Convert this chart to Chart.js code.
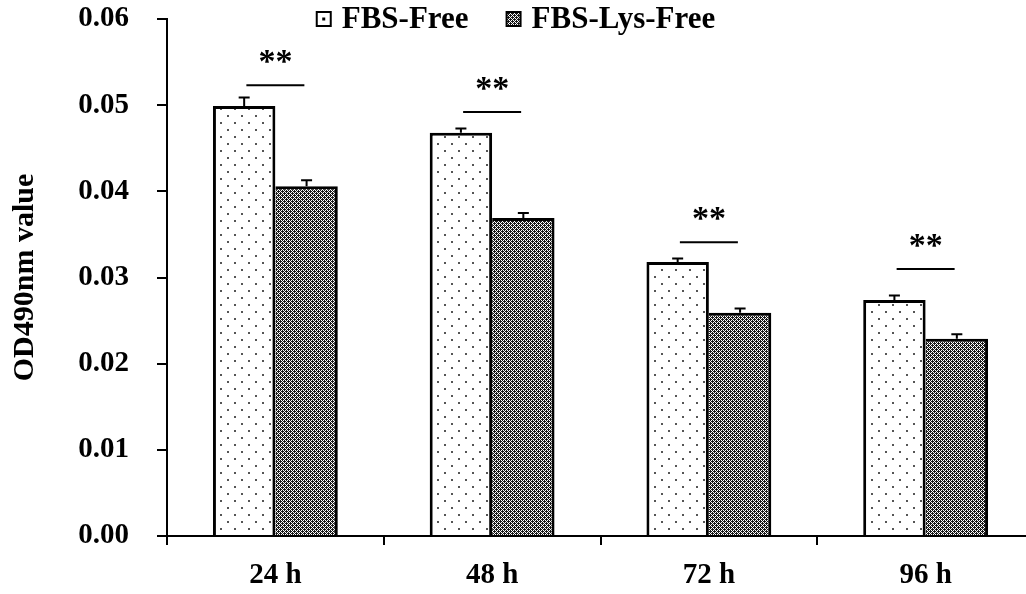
<!DOCTYPE html>
<html>
<head>
<meta charset="utf-8">
<script src="https://cdn.jsdelivr.net/npm/chart.js@4.4.0/dist/chart.umd.min.js"></script>
<style>
  html, body { margin: 0; padding: 0; background: #fff; overflow: hidden; }
  #wrap { width: 1026px; height: 594px; overflow: hidden; }
  #wrap canvas { display: block; }
</style>
</head>
<body>
<div id="wrap"><canvas id="chart" width="1040" height="594"></canvas></div>
<script>
// values
const categories = ['24 h', '48 h', '72 h', '96 h'];
const fbsFree = [0.0499, 0.0468, 0.0318, 0.0274];
const fbsFreeErr = [0.0010, 0.0005, 0.0004, 0.0005];
const fbsLysFree = [0.0406, 0.0369, 0.0259, 0.0229];
const fbsLysFreeErr = [0.0007, 0.0006, 0.0005, 0.0005];
const sigLevels = [0.0523, 0.0492, 0.0341, 0.0310];
const sigMarks = ['**', '**', '**', '**'];
const yTickValues = [0, 0.01, 0.02, 0.03, 0.04, 0.05, 0.06];

const FONT = '"Liberation Serif", "Times New Roman", serif';
const canvas = document.getElementById('chart');
const ctx = canvas.getContext('2d');

function dotPattern() {
  const c = document.createElement('canvas');
  c.width = 14; c.height = 14;
  const g = c.getContext('2d');
  g.fillStyle = '#fff';
  g.fillRect(0, 0, 14, 14);
  g.fillStyle = '#555';
  g.fillRect(3, 3, 2, 2);
  g.fillRect(10, 10, 2, 2);
  return ctx.createPattern(c, 'repeat');
}

function densePattern() {
  const c = document.createElement('canvas');
  c.width = 4; c.height = 4;
  const g = c.getContext('2d');
  g.fillStyle = '#fff';
  g.fillRect(0, 0, 4, 4);
  g.fillStyle = '#1a1a1a';
  [[0, 0], [2, 0], [1, 1], [3, 1], [0, 2], [2, 2], [1, 3], [3, 3], [0, 1], [2, 3]].forEach(([x, y]) => g.fillRect(x, y, 1, 1));
  return ctx.createPattern(c, 'repeat');
}

const freeFill = dotPattern();
const lysFill = densePattern();

const errorBars = {
  id: 'errorBars',
  afterDatasetsDraw(chart) {
    const y = chart.scales.y;
    const errs = [fbsFreeErr, fbsLysFreeErr];
    const g = chart.ctx;
    g.save();
    g.strokeStyle = '#000';
    g.lineWidth = 2;
    chart.data.datasets.forEach((ds, i) => {
      chart.getDatasetMeta(i).data.forEach((bar, j) => {
        const top = y.getPixelForValue(ds.data[j] + errs[i][j]);
        g.beginPath();
        g.moveTo(bar.x, bar.y);
        g.lineTo(bar.x, top);
        g.moveTo(bar.x - 5.5, top);
        g.lineTo(bar.x + 5.5, top);
        g.stroke();
      });
    });

    // significance marks
    const x = chart.scales.x;
    categories.forEach((c, j) => {
      const cx = x.getPixelForValue(j);
      const ly = y.getPixelForValue(sigLevels[j]);
      g.beginPath();
      g.moveTo(cx - 29, ly);
      g.lineTo(cx + 29, ly);
      g.stroke();
      g.fillStyle = '#000';
      g.font = 'bold 34px ' + FONT;
      g.textAlign = 'center';
      g.textBaseline = 'alphabetic';
      g.fillText(sigMarks[j], cx, ly - 13);
    });
    g.restore();
  }
};

const topLegend = {
  id: 'topLegend',
  afterDraw(chart) {
    const g = chart.ctx;
    g.save();
    g.font = 'bold 31px ' + FONT;
    const labels = chart.data.datasets.map(d => d.label);
    const w = labels.map(t => g.measureText(t).width);
    const box = 14, gap = 11, spacing = 38;
    const total = box + gap + w[0] + spacing + box + gap + w[1];
    let x = 516 - total / 2;
    const boxTop = 12, baseline = 28;
    labels.forEach((t, i) => {
      g.fillStyle = i === 0 ? '#fff' : lysFill;
      g.fillRect(x, boxTop, box, box);
      if (i === 0) {
        g.fillStyle = '#000';
        g.fillRect(x + box / 2 - 1.5, boxTop + box / 2 - 1.5, 3, 3);
      }
      g.strokeStyle = '#000';
      g.lineWidth = 2;
      g.strokeRect(x, boxTop, box, box);
      g.fillStyle = '#000';
      g.textAlign = 'left';
      g.textBaseline = 'alphabetic';
      g.fillText(t, x + box + gap, baseline);
      x += box + gap + w[i] + spacing;
    });
    g.restore();
  }
};

new Chart(ctx, {
  type: 'bar',
  data: {
    labels: categories,
    datasets: [
      {
        label: 'FBS-Free',
        data: fbsFree,
        backgroundColor: freeFill,
        borderColor: '#000',
        borderWidth: { top: 3, left: 3, right: 3, bottom: 0 },
        borderSkipped: false
      },
      {
        label: 'FBS-Lys-Free',
        data: fbsLysFree,
        backgroundColor: lysFill,
        borderColor: '#000',
        borderWidth: { top: 3, left: 0, right: 3, bottom: 0 },
        borderSkipped: false
      }
    ]
  },
  options: {
    responsive: false,
    animation: false,
    categoryPercentage: 0.576,
    barPercentage: 1.0,
    layout: { padding: { top: 19, right: 6, left: 0, bottom: 0 } },
    plugins: {
      legend: { display: false },
      tooltip: { enabled: false }
    },
    scales: {
      x: {
        afterFit(scale) { scale.height = 58; },
        grid: { offset: true, drawOnChartArea: false, tickLength: 9, color: '#000', lineWidth: 2 },
        border: { color: '#000', width: 2 },
        ticks: { color: '#000', padding: 13, font: { family: FONT, size: 29, weight: 'bold' } }
      },
      y: {
        min: 0,
        max: 0.06,
        afterFit(scale) {
          scale.width = 167;
          scale.paddingTop = 0;
          scale.paddingBottom = 0;
        },
        afterBuildTicks(scale) { scale.ticks = yTickValues.map(v => ({ value: v })); },
        grid: { drawOnChartArea: false, tickLength: 10, color: '#000', lineWidth: 2 },
        border: { color: '#000', width: 2 },
        ticks: {
          color: '#000',
          padding: 28,
          font: { family: FONT, size: 29, weight: 'bold' },
          callback: v => Number(v).toFixed(2)
        },
        title: {
          display: true,
          text: 'OD490nm value',
          color: '#000',
          padding: { top: 7, bottom: 0 },
          font: { family: FONT, size: 30, weight: 'bold' }
        }
      }
    }
  },
  plugins: [errorBars, topLegend]
});
</script>
</body>
</html>
